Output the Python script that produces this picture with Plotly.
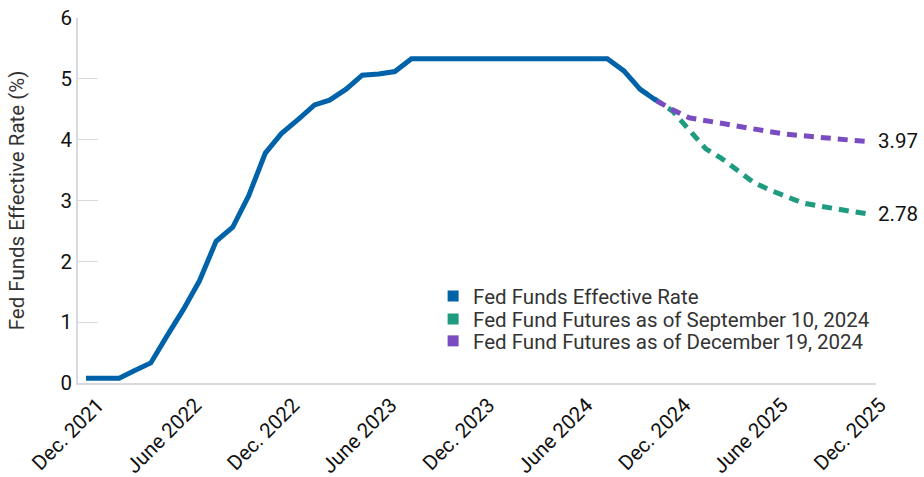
import plotly.graph_objects as go

# ---- data ----
effective_months = [
    "2021-12", "2022-01", "2022-02", "2022-03", "2022-04", "2022-05", "2022-06",
    "2022-07", "2022-08", "2022-09", "2022-10", "2022-11", "2022-12",
    "2023-01", "2023-02", "2023-03", "2023-04", "2023-05", "2023-06",
    "2023-07", "2023-08", "2023-09", "2023-10", "2023-11", "2023-12",
    "2024-01", "2024-02", "2024-03", "2024-04", "2024-05", "2024-06",
    "2024-07", "2024-08", "2024-09", "2024-10", "2024-11",
]
effective_rate = [
    0.08, 0.08, 0.08, 0.20, 0.33, 0.77, 1.21,
    1.68, 2.33, 2.56, 3.08, 3.78, 4.10,
    4.33, 4.57, 4.65, 4.83, 5.06, 5.08,
    5.12, 5.33, 5.33, 5.33, 5.33, 5.33,
    5.33, 5.33, 5.33, 5.33, 5.33, 5.33,
    5.33, 5.33, 5.13, 4.83, 4.64,
]

sep_months = [
    "2024-10", "2024-11", "2024-12", "2025-01", "2025-02", "2025-03", "2025-04",
    "2025-05", "2025-06", "2025-07", "2025-08", "2025-09", "2025-10",
    "2025-11", "2025-12",
]
sep_futures = [
    4.83, 4.64, 4.47, 4.16, 3.85, 3.70, 3.50,
    3.30, 3.17, 3.07, 2.96, 2.91, 2.86,
    2.82, 2.78,
]

dec_months = [
    "2024-11", "2024-12", "2025-01", "2025-02", "2025-03", "2025-04",
    "2025-05", "2025-06", "2025-07", "2025-08", "2025-09", "2025-10",
    "2025-11", "2025-12",
]
dec_futures = [
    4.64, 4.49, 4.36, 4.31, 4.27, 4.22,
    4.17, 4.13, 4.09, 4.06, 4.03, 4.01,
    3.99, 3.97,
]

tick_months = ["2021-12", "2022-06", "2022-12", "2023-06", "2023-12",
               "2024-06", "2024-12", "2025-06", "2025-12"]
tick_labels = ["Dec. 2021", "June 2022", "Dec. 2022", "June 2023", "Dec. 2023",
               "June 2024", "Dec. 2024", "June 2025", "Dec. 2025"]

series_names = ["Fed Funds Effective Rate",
                "Fed Fund Futures as of September 10, 2024",
                "Fed Fund Futures as of December 19, 2024"]
colors = ["#0062A9", "#1F9C7F", "#7A4CC2"]

def d(m):
    return m + "-01"

FONT = "Roboto"
FS = 20.5
fig = go.Figure()

# future lines (drawn first so the effective-rate line sits on top)
fig.add_trace(go.Scatter(x=[d(m) for m in sep_months], y=sep_futures, mode="lines",
                         line=dict(color=colors[1], width=5, dash="10px,7px"),
                         showlegend=False, hoverinfo="skip"))
fig.add_trace(go.Scatter(x=[d(m) for m in dec_months], y=dec_futures, mode="lines",
                         line=dict(color=colors[2], width=5, dash="10px,7px"),
                         showlegend=False, hoverinfo="skip"))
fig.add_trace(go.Scatter(x=[d(m) for m in effective_months], y=effective_rate, mode="lines",
                         line=dict(color=colors[0], width=5),
                         showlegend=False, hoverinfo="skip"))

# legend entries with square swatches, one legend per row for tight spacing
legend_ids = ["legend", "legend2", "legend3"]
for name, c, lid in zip(series_names, colors, legend_ids):
    fig.add_trace(go.Scatter(x=[None], y=[None], mode="markers", name=name,
                             legend=lid,
                             marker=dict(symbol="square", size=11, color=c)))

# end-value labels
fig.add_annotation(x=d(dec_months[-1]), y=dec_futures[-1], text=f"{dec_futures[-1]:.2f}",
                   showarrow=False, xanchor="left", xshift=8,
                   font=dict(family=FONT, size=FS, color="#111"))
fig.add_annotation(x=d(sep_months[-1]), y=sep_futures[-1], text=f"{sep_futures[-1]:.2f}",
                   showarrow=False, xanchor="left", xshift=8,
                   font=dict(family=FONT, size=FS, color="#111"))

legend_common = dict(x=0.445, xanchor="left", yanchor="middle",
                     bgcolor="rgba(0,0,0,0)",
                     font=dict(family=FONT, size=FS, color="#333"))

fig.update_layout(
    width=924, height=477,
    margin=dict(l=78, r=48, t=18, b=94, autoexpand=False),
    paper_bgcolor="white", plot_bgcolor="white",
    font=dict(family=FONT, size=FS, color="#111"),
    showlegend=True,
    legend=dict(y=0.238, **legend_common),
    legend2=dict(y=0.175, **legend_common),
    legend3=dict(y=0.115, **legend_common),
    xaxis=dict(
        range=["2021-11-16", "2025-12-16"],
        tickmode="array", tickvals=[d(m) for m in tick_months], ticktext=tick_labels,
        tickangle=-45, showgrid=False, zeroline=False, automargin=False,
        showline=True, linecolor="#d6d9de", linewidth=2, ticks="",
        ticklabelshift=12, ticklabeloverflow="allow",
        tickfont=dict(family=FONT, size=FS, color="#111"),
    ),
    yaxis=dict(
        range=[0, 6], tickmode="array", tickvals=[0, 1, 2, 3, 4, 5, 6],
        showgrid=False, zeroline=False, automargin=False,
        showline=True, linecolor="#d6d9de", linewidth=1.5,
        ticks="inside", ticklen=20, tickcolor="#d6d9de", tickwidth=1,
        ticklabeloverflow="allow",
        tickfont=dict(family=FONT, size=FS, color="#111"),
        title=dict(text="Fed Funds Effective Rate (%)", standoff=30,
                   font=dict(family=FONT, size=FS, color="#333")),
    ),
)

# remove the default 8px page margin so the 924x477 figure fills the window exactly
fig.write_html("out.html",
               config={"displayModeBar": False},
               post_script="document.body.style.margin='0';document.body.style.overflow='hidden';")
